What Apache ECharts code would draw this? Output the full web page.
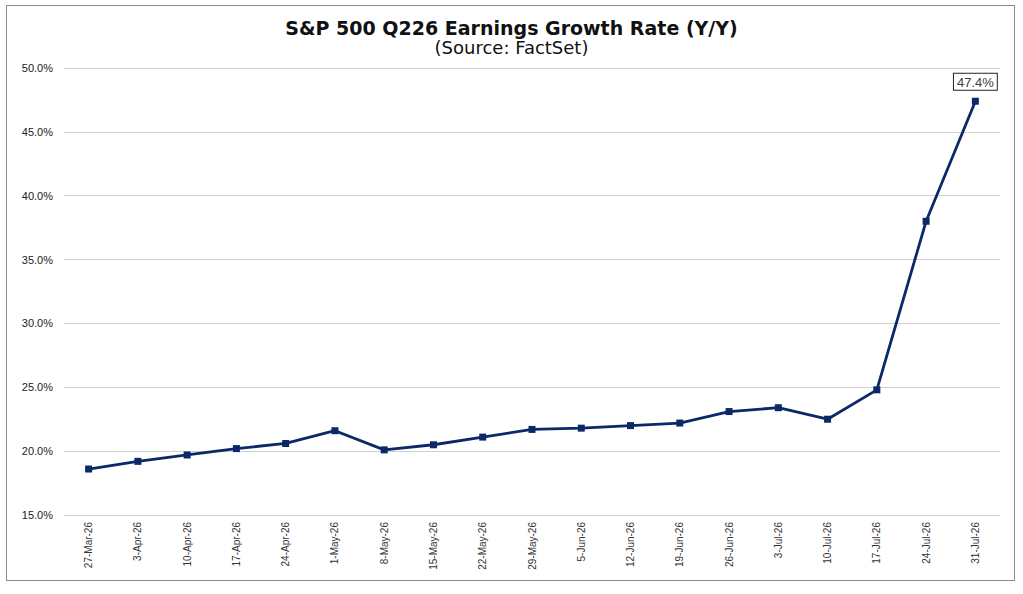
<!DOCTYPE html>
<html>
<head>
<meta charset="utf-8">
<script src="https://cdn.jsdelivr.net/npm/echarts@6/dist/echarts.min.js"></script>
<style>
  html, body { margin: 0; padding: 0; background: #fff; }
  #frame { position: absolute; left: 6px; top: 5px; width: 1007px; height: 574px; border: 1px solid #8c8c8c; }
  #chart { position: absolute; left: 0; top: 0; width: 1023px; height: 594px; }
</style>
</head>
<body>
<div id="frame"></div>
<div id="chart"></div>
<script>
var weeks = ['27-Mar-26', '3-Apr-26', '10-Apr-26', '17-Apr-26', '24-Apr-26', '1-May-26',
  '8-May-26', '15-May-26', '22-May-26', '29-May-26', '5-Jun-26', '12-Jun-26',
  '19-Jun-26', '26-Jun-26', '3-Jul-26', '10-Jul-26', '17-Jul-26', '24-Jul-26', '31-Jul-26'];
var growth = [18.6, 19.2, 19.7, 20.2, 20.6, 21.6, 20.1, 20.5, 21.1, 21.7, 21.8, 22.0,
  22.2, 23.1, 23.4, 22.5, 24.8, 38.0, 47.4];
var yTicks = [15, 50, 5];   // min, max, step

var navy = '#0c2868';
var font = 'Liberation Sans, Arial, sans-serif';
var titleFont = 'DejaVu Sans, Verdana, sans-serif';

var chart = echarts.init(document.getElementById('chart'), null, { renderer: 'svg' });
chart.setOption({
  animation: false,
  title: {
    text: 'S&P 500 Q226 Earnings Growth Rate (Y/Y)',
    subtext: '(Source: FactSet)',
    left: 'center',
    top: 13,
    itemGap: 1,
    textStyle: { fontFamily: titleFont, fontSize: 19, fontWeight: 'bold', color: '#111' },
    subtextStyle: { fontFamily: titleFont, fontSize: 18, color: '#111' }
  },
  grid: { left: 64, right: 23, top: 68, bottom: 79 },
  xAxis: {
    type: 'category',
    data: weeks,
    boundaryGap: true,
    axisLine: { show: false },
    axisTick: { show: false },
    axisLabel: { rotate: 90, interval: 0, margin: 7, fontFamily: font, fontSize: 10, color: '#333' }
  },
  yAxis: {
    type: 'value',
    min: yTicks[0],
    max: yTicks[1],
    interval: yTicks[2],
    axisLine: { show: false },
    axisTick: { show: false },
    axisLabel: {
      margin: 11, fontFamily: font, fontSize: 11, color: '#222',
      formatter: function (v) { return v.toFixed(1) + '%'; }
    },
    splitLine: { lineStyle: { color: '#d0d0d0', width: 1 } }
  },
  series: [{
    type: 'line',
    data: growth.map(function (v, i) {
      if (i === growth.length - 1) {
        return {
          value: v,
          label: {
            show: true, position: 'top', distance: 8,
            formatter: function (p) { return p.value.toFixed(1) + '%'; },
            fontFamily: font, fontSize: 13, color: '#404040',
            backgroundColor: '#fff', borderColor: '#222', borderWidth: 1,
            padding: [2, 3, 1, 3]
          }
        };
      }
      return v;
    }),
    symbol: 'rect',
    symbolSize: 7,
    lineStyle: { color: navy, width: 2.8 },
    itemStyle: { color: navy }
  }]
});
window.addEventListener('resize', function () { chart.resize(); });
</script>
</body>
</html>
